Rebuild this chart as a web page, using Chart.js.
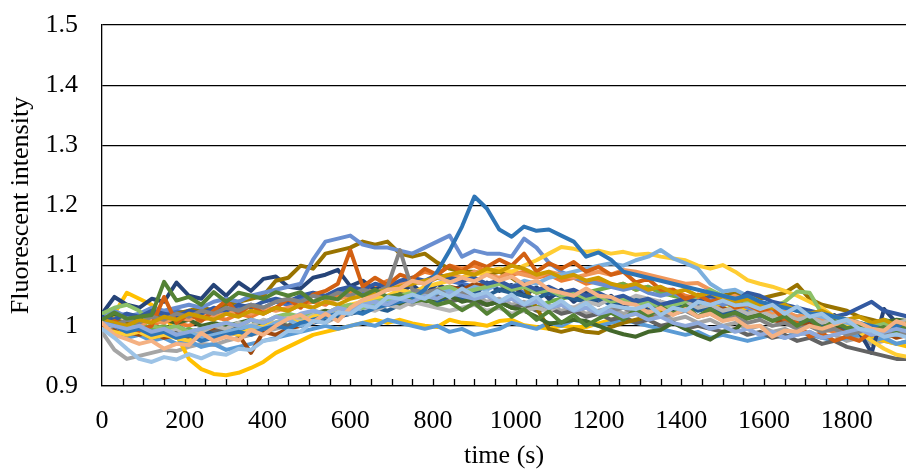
<!DOCTYPE html>
<html>
<head>
<meta charset="utf-8">
<script src="https://cdn.jsdelivr.net/npm/chart.js@4.4.1/dist/chart.umd.min.js"></script>
<style>
  html, body { margin: 0; padding: 0; background: #fff; overflow: hidden; }
  #chart { display: block; }
</style>
</head>
<body>
<canvas id="chart" width="906" height="470"></canvas>
<script>
// sample times (s)
const times = [0, 30, 60, 90, 120, 150, 180, 210, 240, 270,
  300, 330, 360, 390, 420, 450, 480, 510, 540, 570,
  600, 630, 660, 690, 720, 750, 780, 810, 840, 870,
  900, 930, 960, 990, 1020, 1050, 1080, 1110, 1140, 1170,
  1200, 1230, 1260, 1290, 1320, 1350, 1380, 1410, 1440, 1470,
  1500, 1530, 1560, 1590, 1620, 1650, 1680, 1710, 1740, 1770,
  1800, 1830, 1860, 1890, 1920, 1950];

const xTickLabels = [0, 200, 400, 600, 800, 1000, 1200, 1400, 1600, 1800];
const yTickLabels = ['0.9', '1', '1.1', '1.2', '1.3', '1.4', '1.5'];

// one array per cell trace, Excel series order
const s01 = [1.01, 1.015, 1.02, 1.01, 1.015, 1.02, 1.025, 1.02, 1.03, 1.025,
  1.02, 1.03, 1.035, 1.03, 1.04, 1.035, 1.045, 1.05, 1.045, 1.055,
  1.06, 1.055, 1.065, 1.06, 1.07, 1.075, 1.07, 1.08, 1.075, 1.07,
  1.065, 1.07, 1.06, 1.065, 1.055, 1.06, 1.05, 1.055, 1.045, 1.05,
  1.04, 1.045, 1.035, 1.04, 1.03, 1.035, 1.04, 1.03, 1.035, 1.025,
  1.03, 1.02, 1.025, 1.015, 1.02, 1.01, 1.015, 1.005, 1.01, 1.0,
  0.995, 1.0, 0.99, 0.985, 0.99, 0.995];
const s02 = [1.01, 1.0, 1.005, 0.995, 1.0, 1.01, 1.005, 1.0, 1.01, 1.015,
  1.01, 1.02, 1.015, 1.025, 1.03, 1.025, 1.035, 1.04, 1.035, 1.05,
  1.055, 1.06, 1.065, 1.075, 1.07, 1.08, 1.09, 1.085, 1.1, 1.095,
  1.1, 1.09, 1.095, 1.085, 1.09, 1.08, 1.085, 1.075, 1.08, 1.07,
  1.075, 1.065, 1.07, 1.06, 1.065, 1.055, 1.06, 1.05, 1.045, 1.04,
  1.035, 1.04, 1.03, 1.02, 1.01, 1.015, 1.005, 1.0, 0.995, 0.99,
  0.995, 0.985, 0.99, 0.98, 0.985, 0.99];
const s03 = [0.99, 0.96, 0.945, 0.95, 0.955, 0.96, 0.958, 0.965, 0.97, 0.968,
  0.975, 0.98, 0.985, 0.99, 0.995, 1.0, 1.005, 1.01, 1.005, 1.015,
  1.02, 1.025, 1.03, 1.035, 1.04, 1.035, 1.045, 1.04, 1.05, 1.045,
  1.05, 1.04, 1.045, 1.035, 1.04, 1.03, 1.035, 1.025, 1.03, 1.02,
  1.025, 1.03, 1.02, 1.025, 1.015, 1.02, 1.01, 1.015, 1.005, 1.01,
  1.0, 1.005, 0.995, 1.0, 0.99, 0.995, 0.985, 0.99, 0.98, 0.985,
  0.975, 0.98, 0.97, 0.975, 0.97, 0.975];
const s04 = [1.0, 1.02, 1.055, 1.045, 1.035, 1.02, 0.985, 0.945, 0.928, 0.92,
  0.918, 0.922, 0.93, 0.94, 0.955, 0.965, 0.975, 0.985, 0.99, 0.995,
  1.0, 1.005, 1.01, 1.005, 1.01, 1.004, 1.0, 0.998, 1.01, 1.005,
  1.004, 1.0, 1.008, 1.01, 1.001, 0.998, 0.995, 1.0, 0.998, 0.998,
  1.004, 1.01, 1.015, 1.02, 1.03, 1.025, 1.035, 1.03, 1.04, 1.035,
  1.03, 1.025, 1.03, 1.02, 1.015, 1.02, 1.01, 1.005, 1.0, 0.995,
  0.99, 0.985, 0.98, 0.975, 0.97, 0.965];
const s05 = [1.0, 0.99, 0.98, 0.985, 0.975, 0.98, 0.97, 0.975, 0.965, 0.97,
  0.96, 0.965, 0.97, 0.975, 0.98, 0.985, 0.99, 0.995, 1.0, 0.995,
  1.0, 1.005, 1.0, 1.01, 1.005, 1.0, 0.995, 1.0, 0.99, 0.995,
  0.985, 0.99, 0.995, 1.005, 1.0, 0.995, 1.005, 1.0, 1.01, 1.005,
  1.0, 1.005, 1.01, 1.005, 1.0, 0.995, 0.99, 0.985, 0.99, 0.98,
  0.985, 0.98, 0.975, 0.98, 0.985, 0.98, 0.99, 0.985, 0.98, 0.975,
  0.98, 0.985, 0.975, 0.98, 0.97, 0.975];
const s06 = [1.0, 1.01, 1.0, 1.005, 0.995, 1.0, 0.99, 0.995, 0.985, 0.99,
  0.995, 0.99, 1.0, 0.995, 1.005, 1.0, 1.01, 1.015, 1.02, 1.025,
  1.03, 1.04, 1.035, 1.045, 1.04, 1.05, 1.045, 1.04, 1.05, 1.045,
  1.04, 1.035, 1.04, 1.03, 1.035, 1.03, 1.04, 1.045, 1.05, 1.055,
  1.06, 1.065, 1.07, 1.06, 1.065, 1.055, 1.05, 1.045, 1.04, 1.035,
  1.04, 1.03, 1.035, 1.025, 1.03, 1.02, 1.015, 1.01, 1.0, 1.005,
  1.0, 0.995, 1.0, 1.01, 1.005, 1.0];
const s07 = [1.02, 1.048, 1.035, 1.03, 1.045, 1.04, 1.072, 1.05, 1.045, 1.068,
  1.05, 1.072, 1.058, 1.078, 1.082, 1.065, 1.062, 1.08, 1.085, 1.093,
  1.066, 1.075, 1.06, 1.07, 1.055, 1.068, 1.052, 1.07, 1.058, 1.066,
  1.05, 1.072, 1.058, 1.068, 1.05, 1.064, 1.045, 1.06, 1.04, 1.055,
  1.035, 1.05, 1.03, 1.045, 1.025, 1.04, 1.022, 1.045, 1.028, 1.04,
  1.042, 1.05, 1.035, 1.032, 1.02, 1.028, 1.01, 1.025, 1.005, 1.018,
  1.0, 0.99, 0.955, 1.028, 1.005, 1.0];
const s08 = [1.0, 0.995, 0.99, 0.985, 0.99, 0.98, 0.985, 0.99, 0.985, 0.995,
  0.99, 0.985, 0.955, 0.99, 0.985, 0.995, 1.0, 1.01, 1.015, 1.02,
  1.025, 1.03, 1.04, 1.035, 1.045, 1.05, 1.055, 1.06, 1.065, 1.06,
  1.07, 1.065, 1.07, 1.06, 1.065, 1.055, 1.06, 1.05, 1.055, 1.045,
  1.05, 1.04, 1.045, 1.04, 1.035, 1.04, 1.03, 1.035, 1.03, 1.025,
  1.03, 1.02, 1.015, 1.02, 1.01, 1.005, 1.0, 1.005, 0.995, 1.0,
  0.99, 0.995, 0.985, 0.99, 0.98, 0.985];
const s09 = [1.0, 0.99, 0.985, 0.99, 0.98, 0.985, 0.99, 0.98, 0.985, 0.99,
  0.995, 1.0, 0.99, 1.0, 1.005, 1.0, 1.01, 1.005, 1.015, 1.02,
  1.03, 1.04, 1.05, 1.045, 1.055, 1.05, 1.045, 1.05, 1.04, 1.045,
  1.04, 1.035, 1.04, 1.03, 1.035, 1.025, 1.03, 1.02, 1.025, 1.015,
  1.02, 1.01, 1.015, 1.005, 1.01, 1.0, 1.005, 0.995, 1.0, 0.995,
  0.99, 0.995, 0.985, 0.99, 0.98, 0.985, 0.975, 0.98, 0.97, 0.975,
  0.965, 0.96, 0.955, 0.95, 0.945, 0.945];
const s10 = [1.0, 1.01, 1.005, 1.015, 1.02, 1.01, 1.02, 1.025, 1.03, 1.025,
  1.035, 1.04, 1.045, 1.05, 1.075, 1.08, 1.1, 1.095, 1.12, 1.125,
  1.13, 1.14, 1.135, 1.14, 1.12, 1.115, 1.12, 1.105, 1.095, 1.09,
  1.09, 1.085, 1.09, 1.08, 1.065, 1.03, 0.995, 0.99, 0.995, 0.99,
  0.988, 0.998, 1.005, 1.01, 1.015, 1.02, 1.03, 1.035, 1.04, 1.045,
  1.05, 1.055, 1.05, 1.045, 1.05, 1.055, 1.068, 1.045, 1.035, 1.03,
  1.025, 1.015, 1.01, 1.005, 1.0, 0.995];
const s11 = [1.0, 1.005, 0.995, 1.0, 0.99, 0.995, 1.0, 0.99, 0.995, 0.985,
  0.99, 0.995, 1.0, 0.995, 1.005, 1.01, 1.0, 1.005, 1.01, 1.015,
  1.02, 1.025, 1.03, 1.025, 1.035, 1.04, 1.045, 1.04, 1.05, 1.045,
  1.055, 1.05, 1.06, 1.055, 1.05, 1.045, 1.055, 1.05, 1.045, 1.04,
  1.045, 1.035, 1.04, 1.045, 1.035, 1.04, 1.03, 1.035, 1.025, 1.03,
  1.02, 1.025, 1.015, 1.02, 1.01, 1.015, 1.005, 1.01, 1.0, 1.005,
  0.995, 1.0, 0.99, 0.995, 0.985, 0.99];
const s12 = [1.01, 1.02, 1.015, 1.01, 1.015, 1.01, 1.005, 1.01, 1.0, 1.005,
  1.0, 1.005, 1.01, 1.0, 1.005, 1.01, 1.015, 1.02, 1.025, 1.02,
  1.03, 1.035, 1.03, 1.04, 1.035, 1.045, 1.04, 1.045, 1.05, 1.04,
  1.045, 1.035, 1.04, 1.03, 1.025, 1.015, 1.004, 1.006, 1.01, 1.008,
  1.0, 0.992, 0.986, 0.982, 0.99, 0.993, 1.005, 0.995, 0.985, 0.977,
  0.99, 0.993, 1.015, 1.02, 1.015, 1.02, 1.01, 1.015, 1.005, 1.0,
  1.0, 0.995, 0.998, 1.005, 1.01, 1.008];
const s13 = [1.02, 1.025, 1.015, 1.02, 1.03, 1.025, 1.03, 1.035, 1.03, 1.04,
  1.045, 1.04, 1.05, 1.055, 1.06, 1.065, 1.07, 1.11, 1.14, 1.145,
  1.15, 1.135, 1.13, 1.13, 1.125, 1.12, 1.13, 1.14, 1.15, 1.115,
  1.125, 1.12, 1.12, 1.115, 1.145, 1.13, 1.105, 1.09, 1.08, 1.075,
  1.07, 1.065, 1.06, 1.065, 1.055, 1.05, 1.055, 1.045, 1.04, 1.045,
  1.035, 1.04, 1.03, 1.025, 1.03, 1.02, 1.015, 1.02, 1.01, 1.005,
  1.01, 1.0, 0.995, 1.005, 1.0, 0.995];
const s14 = [1.0, 1.005, 0.995, 1.0, 1.01, 1.005, 1.015, 1.01, 1.02, 1.015,
  1.02, 1.025, 1.02, 1.03, 1.025, 1.03, 1.035, 1.03, 1.04, 1.045,
  1.05, 1.06, 1.055, 1.065, 1.07, 1.075, 1.07, 1.08, 1.085, 1.08,
  1.09, 1.085, 1.08, 1.09, 1.085, 1.08, 1.09, 1.085, 1.08, 1.085,
  1.09, 1.085, 1.093, 1.09, 1.085, 1.08, 1.075, 1.07, 1.071, 1.06,
  1.043, 1.05, 1.04, 1.03, 1.021, 1.025, 1.015, 1.02, 1.01, 1.005,
  1.0, 0.995, 1.0, 0.99, 0.995, 0.99];
const s15 = [0.995, 1.0, 0.99, 0.995, 0.985, 0.99, 0.995, 0.985, 0.99, 1.0,
  0.995, 1.005, 1.0, 1.01, 1.005, 1.015, 1.01, 1.02, 1.015, 1.025,
  1.02, 1.03, 1.025, 1.035, 1.03, 1.04, 1.035, 1.03, 1.025, 1.03,
  1.035, 1.025, 1.03, 1.02, 1.025, 1.03, 1.025, 1.035, 1.03, 1.04,
  1.035, 1.045, 1.04, 1.05, 1.045, 1.04, 1.035, 1.04, 1.03, 1.035,
  1.025, 1.03, 1.02, 1.025, 1.015, 1.02, 1.01, 1.015, 1.005, 1.01,
  1.0, 1.005, 0.995, 1.0, 1.005, 1.01];
const s16 = [0.995, 0.99, 0.985, 0.99, 0.98, 0.985, 0.98, 0.975, 0.985, 0.98,
  0.99, 0.985, 0.995, 1.0, 1.005, 1.01, 1.005, 1.015, 1.02, 1.03,
  1.035, 1.04, 1.045, 1.05, 1.06, 1.055, 1.065, 1.07, 1.075, 1.08,
  1.085, 1.09, 1.095, 1.09, 1.1, 1.109, 1.12, 1.131, 1.128, 1.123,
  1.125, 1.12, 1.123, 1.118, 1.12, 1.115, 1.112, 1.109, 1.1, 1.095,
  1.101, 1.09, 1.076, 1.07, 1.065, 1.058, 1.05, 1.04, 1.03, 1.015,
  1.0, 0.99, 0.975, 0.962, 0.952, 0.948];
const s17 = [1.01, 1.005, 1.0, 0.995, 0.99, 0.995, 0.985, 0.99, 0.98, 0.985,
  0.99, 0.995, 1.0, 0.995, 1.005, 1.01, 1.0, 1.01, 1.015, 1.02,
  1.025, 1.03, 1.035, 1.04, 1.045, 1.05, 1.045, 1.055, 1.06, 1.055,
  1.065, 1.06, 1.07, 1.065, 1.075, 1.07, 1.08, 1.085, 1.09, 1.095,
  1.1, 1.104, 1.1, 1.109, 1.115, 1.126, 1.112, 1.104, 1.095, 1.07,
  1.057, 1.06, 1.05, 1.04, 1.026, 1.03, 1.025, 1.02, 1.015, 1.01,
  1.005, 1.0, 0.995, 0.99, 0.985, 0.99];
const s18 = [1.02, 1.03, 1.035, 1.025, 1.0, 0.995, 1.0, 0.99, 0.995, 1.0,
  1.005, 1.0, 1.01, 1.005, 1.015, 1.02, 1.015, 1.025, 1.02, 1.03,
  1.035, 1.03, 1.04, 1.045, 1.05, 1.055, 1.05, 1.06, 1.065, 1.055,
  1.06, 1.065, 1.07, 1.06, 1.065, 1.055, 1.06, 1.05, 1.055, 1.045,
  1.05, 1.04, 1.045, 1.035, 1.04, 1.03, 1.035, 1.04, 1.05, 1.06,
  1.05, 1.045, 1.04, 1.035, 1.03, 1.04, 1.057, 1.055, 1.02, 1.015,
  1.01, 1.005, 1.0, 1.005, 0.995, 1.0];
const s19 = [1.015, 1.01, 1.02, 1.015, 1.025, 1.02, 1.015, 1.025, 1.02, 1.03,
  1.025, 1.035, 1.03, 1.04, 1.045, 1.04, 1.05, 1.055, 1.05, 1.06,
  1.065, 1.06, 1.07, 1.065, 1.075, 1.08, 1.075, 1.085, 1.08, 1.075,
  1.08, 1.07, 1.075, 1.065, 1.07, 1.06, 1.065, 1.055, 1.06, 1.05,
  1.055, 1.045, 1.05, 1.04, 1.045, 1.035, 1.04, 1.045, 1.04, 1.05,
  1.045, 1.04, 1.055, 1.05, 1.04, 1.035, 1.03, 1.025, 1.02, 1.015,
  1.02, 1.03, 1.04, 1.025, 1.02, 1.015];
const s20 = [1.0, 1.008, 0.998, 0.992, 1.0, 1.048, 1.005, 1.02, 1.008, 1.025,
  1.042, 1.02, 1.035, 1.02, 1.03, 1.045, 1.03, 1.052, 1.058, 1.07,
  1.126, 1.065, 1.08, 1.068, 1.085, 1.078, 1.095, 1.085, 1.1, 1.09,
  1.106, 1.098, 1.11, 1.1, 1.12, 1.09, 1.104, 1.095, 1.106, 1.09,
  1.098, 1.085, 1.09, 1.072, 1.078, 1.06, 1.06, 1.045, 1.052, 1.04,
  1.045, 1.03, 1.035, 1.025, 1.03, 1.01, 1.005, 0.982, 0.988, 0.975,
  0.982, 0.975, 0.99, 0.985, 0.995, 0.988];
const s21 = [1.005, 1.0, 1.01, 1.005, 1.015, 1.01, 1.02, 1.015, 1.025, 1.02,
  1.03, 1.025, 1.035, 1.03, 1.04, 1.045, 1.04, 1.05, 1.045, 1.055,
  1.05, 1.06, 1.055, 1.065, 1.126, 1.06, 1.055, 1.06, 1.05, 1.055,
  1.045, 1.05, 1.04, 1.045, 1.035, 1.04, 1.03, 1.035, 1.025, 1.03,
  1.02, 1.025, 1.03, 1.02, 1.025, 1.015, 1.02, 1.025, 1.015, 1.02,
  1.01, 1.015, 1.005, 1.01, 1.0, 1.005, 0.995, 1.0, 0.99, 0.995,
  0.985, 0.99, 0.995, 0.985, 0.99, 0.985];
const s22 = [1.01, 1.005, 1.0, 1.01, 1.005, 1.015, 1.01, 1.02, 1.015, 1.01,
  1.02, 1.015, 1.025, 1.02, 1.03, 1.025, 1.035, 1.03, 1.04, 1.035,
  1.045, 1.05, 1.055, 1.06, 1.065, 1.07, 1.075, 1.08, 1.085, 1.09,
  1.085, 1.095, 1.09, 1.1, 1.095, 1.085, 1.09, 1.08, 1.085, 1.075,
  1.08, 1.07, 1.065, 1.07, 1.06, 1.065, 1.055, 1.06, 1.05, 1.055,
  1.045, 1.04, 1.045, 1.035, 1.03, 1.035, 1.025, 1.02, 1.025, 1.015,
  1.01, 1.015, 1.005, 1.01, 1.0, 1.005];
const s23 = [1.005, 1.0, 0.99, 0.995, 0.985, 0.99, 0.98, 0.985, 0.975, 0.98,
  0.985, 0.99, 0.985, 0.995, 1.0, 0.995, 1.005, 1.01, 1.015, 1.02,
  1.025, 1.02, 1.03, 1.035, 1.04, 1.045, 1.06, 1.09, 1.125, 1.165,
  1.215, 1.195, 1.16, 1.148, 1.165, 1.158, 1.16, 1.15, 1.14, 1.115,
  1.122, 1.11, 1.09, 1.085, 1.08, 1.075, 1.07, 1.065, 1.06, 1.055,
  1.05, 1.045, 1.05, 1.04, 1.035, 1.03, 1.025, 1.02, 1.02, 1.015,
  1.01, 1.005, 1.0, 0.995, 1.0, 0.995];
const s24 = [1.01, 1.022, 1.012, 1.015, 1.018, 1.073, 1.042, 1.048, 1.035, 1.056,
  1.04, 1.055, 1.05, 1.045, 1.056, 1.05, 1.056, 1.04, 1.048, 1.044,
  1.062, 1.05, 1.06, 1.048, 1.052, 1.04, 1.044, 1.035, 1.04, 1.026,
  1.038, 1.02, 1.034, 1.015, 1.028, 1.01, 1.024, 1.005, 1.018, 1.0,
  1.012, 1.022, 1.01, 1.028, 1.016, 1.032, 1.02, 1.034, 1.015, 1.028,
  1.015, 1.022, 1.012, 1.018, 1.008, 1.016, 1.0, 1.012, 0.995, 1.008,
  0.996, 1.0, 0.992, 0.998, 0.99, 1.002];
const s25 = [1.005, 1.0, 0.995, 1.0, 0.99, 0.995, 0.985, 0.99, 0.995, 1.0,
  1.005, 1.0, 1.01, 1.005, 1.015, 1.01, 1.02, 1.025, 1.02, 1.03,
  1.025, 1.035, 1.04, 1.035, 1.045, 1.04, 1.05, 1.045, 1.055, 1.05,
  1.045, 1.05, 1.04, 1.045, 1.035, 1.04, 1.03, 1.035, 1.025, 1.03,
  1.02, 1.025, 1.015, 1.02, 1.01, 1.015, 1.005, 1.0, 1.005, 0.995,
  1.0, 0.99, 0.995, 0.985, 0.99, 0.98, 0.985, 0.99, 0.98, 0.985,
  0.99, 0.995, 0.985, 0.99, 0.995, 0.99];
const s26 = [1.005, 0.985, 0.978, 0.97, 0.975, 0.962, 0.97, 0.968, 0.988, 0.975,
  0.982, 0.976, 0.993, 0.985, 1.0, 1.012, 1.018, 1.006, 1.02, 1.008,
  1.03, 1.043, 1.05, 1.06, 1.062, 1.075, 1.07, 1.082, 1.072, 1.08,
  1.074, 1.085, 1.075, 1.082, 1.068, 1.075, 1.06, 1.055, 1.05, 1.062,
  1.05, 1.048, 1.038, 1.035, 1.022, 1.03, 1.018, 1.028, 1.015, 1.02,
  1.008, 1.012, 0.998, 1.0, 0.982, 0.992, 0.99, 1.0, 0.995, 1.002,
  1.01, 1.005, 0.995, 0.992, 1.008, 1.0];
const s29 = [0.995, 0.98, 0.962, 0.945, 0.94, 0.948, 0.944, 0.953, 0.946, 0.955,
  0.952, 0.962, 0.96, 0.975, 0.978, 0.992, 0.99, 1.008, 1.005, 1.022,
  1.02, 1.034, 1.03, 1.048, 1.045, 1.052, 1.045, 1.058, 1.048, 1.062,
  1.05, 1.056, 1.04, 1.052, 1.036, 1.048, 1.03, 1.042, 1.026, 1.038,
  1.022, 1.034, 1.03, 1.028, 1.035, 1.018, 1.03, 1.025, 1.04, 1.035,
  1.042, 1.034, 1.036, 1.028, 1.035, 1.02, 1.032, 1.015, 1.02, 1.005,
  1.01, 0.995, 0.992, 0.982, 0.986, 0.98];

const seriesValues = [s01, s02, s03, s04, s05, s06, s07, s08, s09, s10,
  s11, s12, s13, s14, s15, s16, s17, s18, s19, s20,
  s21, s22, s23, s24, s25, s26, s29];
const seriesColors = ['#4472C4', '#ED7D31', '#A5A5A5', '#FFC000', '#5B9BD5', '#70AD47',
  '#264478', '#9E480E', '#636363', '#997300', '#255E91', '#43682B',
  '#698ED0', '#F1975A', '#B7B7B7', '#FFCD33', '#7CAFDD', '#8CC168',
  '#335AA1', '#D26012', '#848484', '#CC9A00', '#2E75B6', '#548235',
  '#8FAADC', '#F4B183', '#9DC3E6'];

const serif = 'Liberation Serif, Times New Roman, serif';

// small tick marks pointing up into the plot
const innerTicks = {
  id: 'innerTicks',
  afterDraw(chart) {
    const xs = chart.scales.x, ctx = chart.ctx, bottom = chart.chartArea.bottom;
    ctx.save();
    ctx.strokeStyle = '#000';
    ctx.lineWidth = 1.3;
    xs.ticks.forEach(t => {
      if (t.value <= 0) return;
      const px = Math.round(xs.getPixelForValue(t.value)) + 0.5;
      ctx.beginPath();
      ctx.moveTo(px, bottom);
      ctx.lineTo(px, bottom - 7);
      ctx.stroke();
    });
    ctx.restore();
  }
};

new Chart(document.getElementById('chart'), {
  type: 'line',
  data: {
    datasets: seriesValues.map((vals, i) => ({
      data: vals.map((v, j) => ({ x: times[j], y: v })),
      borderColor: seriesColors[i],
      borderWidth: 4,
      borderJoinStyle: 'round',
      borderCapStyle: 'round',
      pointRadius: 0,
      fill: false,
      tension: 0,
      order: seriesValues.length - i
    }))
  },
  options: {
    responsive: false,
    animation: false,
    devicePixelRatio: 1,
    layout: { padding: { top: 25, right: 0, left: 0, bottom: 0 } },
    plugins: { legend: { display: false }, tooltip: { enabled: false } },
    scales: {
      x: {
        type: 'linear',
        min: 0,
        max: 1943,
        grid: { display: false, drawTicks: false },
        border: { display: true, color: '#000', width: 1.3 },
        ticks: {
          stepSize: 50,
          autoSkip: false,
          maxRotation: 0,
          includeBounds: false,
          padding: 20,
          color: '#000',
          font: { family: serif, size: 26 },
          callback: v => xTickLabels.includes(v) ? String(v) : ''
        },
        title: {
          display: true,
          text: 'time (s)',
          color: '#000',
          font: { family: serif, size: 26 },
          padding: { top: 0, bottom: -2 }
        },
        afterFit: s => { s.height = 84; s.paddingRight = 0; }
      },
      y: {
        min: 0.9,
        max: 1.5,
        grid: { color: '#000', lineWidth: 1.3, drawTicks: false },
        border: { display: true, color: '#000', width: 1.3 },
        ticks: {
          stepSize: 0.1,
          padding: 24,
          color: '#000',
          font: { family: serif, size: 26 },
          callback: (v, i) => yTickLabels[i]
        },
        title: {
          display: true,
          text: 'Fluorescent intensity',
          color: '#000',
          font: { family: serif, size: 26 },
          padding: { top: 6, bottom: 0 }
        },
        afterFit: s => { s.width = 102; s.paddingTop = 0; s.paddingBottom = 0; }
      }
    }
  },
  plugins: [innerTicks]
});
</script>
</body>
</html>
